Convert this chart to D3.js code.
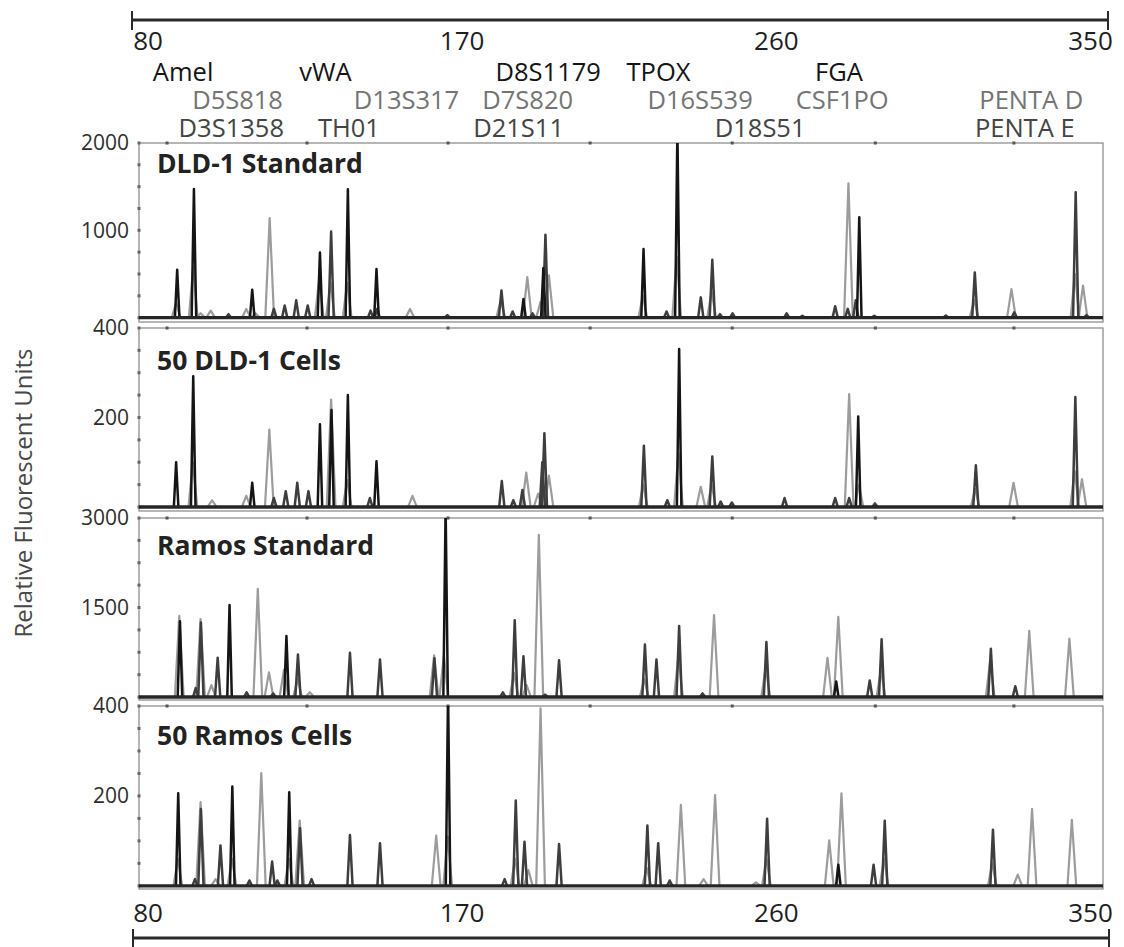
<!DOCTYPE html>
<html><head><meta charset="utf-8">
<script src="https://cdn.jsdelivr.net/npm/d3@7"></script>
<style>
body{margin:0;background:#fff}
svg{display:block}
text{font-family:"Open Sans","Liberation Sans",sans-serif}
</style>
</head><body>
<svg id="c" width="1124" height="947"></svg>
<script>
// ---------------- DATA ----------------
const sizeTicks = [80, 170, 260, 350];            // fragment size (bp) labels
const frameTicks = [85.6, 125.7, 166.1, 206.8, 247.5, 288.5, 328.2]; // small marks on panel top edge (bp)

// marker names with the bp position of their label centre
const markersRow1 = [["Amel", 90.2], ["vWA", 131.0], ["D8S1179", 194.8], ["TPOX", 226.4], ["FGA", 278.1]];
const markersRow2 = [["D5S818", 105.8], ["D13S317", 154.2], ["D7S820", 188.9], ["D16S539", 238.3], ["CSF1PO", 279.0], ["PENTA D", 333.2]];
const markersRow3 = [["D3S1358", 104.0], ["TH01", 137.7], ["D21S11", 186.3], ["D18S51", 255.5], ["PENTA E", 331.3]];

const panelTitles = ["DLD-1 Standard", "50 DLD-1 Cells", "Ramos Standard", "50 Ramos Cells"];
const panelYTicks = [[1000, 2000], [200, 400], [1500, 3000], [200, 400]];
const panelYMax = [2000, 400, 3000, 400];

// peaks: [size bp, height RFU, dye tone]  k = black dye, d = dark dye, g = light dye
const dld1Standard = [
  [88.5,549,"k"],[88.2,170,"g"],[93.3,1474,"k"],[93.1,580,"g"],[95.2,50,"g"],[98.1,80,"g"],[103.2,40,"d"],
  [108.3,100,"g"],[110.0,320,"k"],[110.9,50,"g"],[115.0,1140,"g"],[116.2,100,"d"],[119.3,140,"d"],
  [122.6,198,"d"],[125.9,140,"d"],[129.4,747,"k"],[129.2,450,"g"],[132.6,986,"d"],[132.4,400,"g"],
  [137.4,1470,"k"],[137.2,400,"g"],[143.9,80,"d"],[145.6,556,"k"],[145.8,100,"d"],[155.2,100,"g"],
  [165.9,30,"d"],[181.4,312,"d"],[181.2,200,"g"],[184.6,70,"d"],[187.7,213,"k"],[188.8,465,"g"],
  [190.3,50,"d"],[192.6,180,"g"],[193.4,567,"k"],[194.0,949,"d"],[195.0,484,"g"],
  [222.1,785,"k"],[221.9,250,"g"],[228.7,70,"d"],[231.8,2150,"k"],[231.6,700,"g"],[238.5,232,"d"],
  [241.8,663,"d"],[241.6,300,"g"],[244.0,40,"d"],[247.6,50,"d"],[263.1,50,"d"],[267.6,20,"d"],
  [277.0,130,"d"],[280.8,1539,"g"],[280.6,100,"d"],[282.9,200,"d"],[283.9,1151,"k"],[288.2,20,"d"],
  [308.7,25,"d"],[317.0,518,"d"],[316.8,200,"g"],[327.5,327,"g"],[328.3,60,"d"],
  [345.9,1436,"d"],[345.7,500,"g"],[348.0,366,"g"],[349.0,30,"d"]
];
const dld1Cells = [
  [88.2,100,"k"],[93.1,292,"k"],[93.0,100,"g"],[98.5,15,"g"],[108.3,25,"g"],[110.0,54,"k"],
  [114.9,173,"g"],[116.2,20,"d"],[119.6,35,"d"],[122.9,54,"d"],[126.1,35,"d"],[129.4,185,"k"],
  [132.6,240,"g"],[132.7,217,"k"],[137.4,250,"k"],[137.2,60,"g"],[143.7,20,"d"],[145.6,102,"k"],
  [155.9,25,"g"],[181.5,58,"d"],[184.8,15,"d"],[187.4,38,"d"],[188.5,77,"g"],[191.9,30,"g"],
  [193.1,100,"d"],[193.7,165,"d"],[195.0,70,"g"],
  [222.2,137,"d"],[222.0,50,"g"],[228.9,15,"d"],[232.3,353,"k"],[232.1,120,"g"],[238.5,45,"g"],
  [241.8,113,"d"],[241.6,50,"g"],[244.2,12,"d"],[247.4,10,"d"],[262.5,20,"d"],[277.0,20,"d"],
  [281.0,252,"g"],[281.0,20,"d"],[283.6,202,"k"],[283.8,50,"g"],[288.4,8,"d"],[317.3,93,"d"],
  [317.1,40,"g"],[328.1,54,"g"],[345.8,246,"d"],[345.6,80,"g"],[347.7,62,"g"]
];
const ramosStandard = [
  [89.3,1270,"k"],[89.1,1361,"g"],[93.8,150,"d"],[95.2,1305,"g"],[95.3,1250,"d"],[98.3,200,"g"],
  [100.1,656,"d"],[103.5,1542,"k"],[108.4,80,"d"],[111.6,1814,"g"],[114.8,412,"g"],[116.0,60,"d"],
  [119.1,460,"g"],[119.8,1022,"k"],[123.1,712,"d"],[123.0,300,"g"],[126.5,80,"g"],[138.0,740,"d"],
  [146.6,627,"d"],[162.1,700,"g"],[162.2,650,"d"],[164.9,700,"g"],[165.4,3200,"k"],[181.8,80,"d"],
  [185.2,1288,"d"],[185.0,400,"g"],[187.7,683,"d"],[188.6,200,"g"],[192.1,2717,"g"],[193.9,40,"d"],
  [197.9,615,"d"],
  [222.5,881,"d"],[222.3,300,"g"],[225.8,627,"d"],[232.3,1192,"d"],[232.1,700,"g"],[239.0,60,"d"],
  [242.3,1373,"g"],[257.3,920,"d"],[257.1,500,"g"],[274.8,656,"g"],[277.3,260,"k"],[277.9,1344,"g"],
  [286.9,276,"d"],[290.3,966,"d"],[290.1,450,"g"],[321.6,808,"d"],[321.4,600,"g"],[328.6,180,"d"],
  [332.6,1107,"g"],[344.1,978,"g"]
];
const ramosCells = [
  [88.8,206,"k"],[88.7,60,"g"],[93.6,15,"d"],[95.2,186,"g"],[95.3,171,"d"],[99.5,15,"g"],
  [100.9,90,"d"],[104.3,221,"k"],[104.2,60,"g"],[109.2,12,"d"],[112.6,251,"g"],[115.7,54,"d"],
  [117.2,12,"d"],[120.6,208,"k"],[120.5,60,"g"],[123.6,145,"g"],[123.7,128,"d"],[127.0,15,"d"],
  [138.0,113,"d"],[146.6,95,"d"],[162.7,112,"g"],[166.1,430,"k"],[166.0,110,"g"],[182.3,15,"d"],
  [185.5,190,"d"],[185.3,60,"g"],[188.0,98,"d"],[189.1,35,"g"],[192.6,395,"g"],[197.9,93,"d"],
  [223.2,134,"d"],[223.0,40,"g"],[226.3,95,"d"],[229.6,12,"d"],[232.8,180,"g"],[239.3,15,"g"],
  [242.6,202,"g"],[254.3,8,"g"],[257.5,149,"d"],[257.3,60,"g"],[275.3,101,"g"],[277.9,47,"k"],
  [278.8,206,"g"],[288.0,47,"d"],[291.2,145,"d"],[291.0,60,"g"],[322.2,125,"d"],[322.0,50,"g"],
  [329.3,25,"g"],[333.4,171,"g"],[344.8,147,"g"]
];
const panelPeaks = [dld1Standard, dld1Cells, ramosStandard, ramosCells];

// ---------------- LAYOUT / STYLE ----------------
const L = 139, R = 1103;
const panelBox = [[143, 322], [328, 511], [518, 700], [706, 889]];
const panelYMin = [-50, -9, -50, -7];
const titleBase = [173, 370, 555, 745];
const tone = {
  k: {c: "#151515", w: 0.65, sw: 2.5, o: 2},
  d: {c: "#3e3e3e", w: 0.75, sw: 2.5, o: 1},
  g: {c: "#9c9c9c", w: 1.25, sw: 2.2, o: 0}
};

const svg = d3.select("#c");
const x = d3.scaleLinear().domain([80, 350]).range([147.5, 1090]);

// top size axis
const topAx = svg.append("g").attr("transform", "translate(0,20)")
  .call(d3.axisBottom(x).tickValues(sizeTicks).tickSize(0).tickPadding(12).tickFormat(d3.format("d")));
topAx.select(".domain").remove();
topAx.selectAll("text").attr("font-size", 26).attr("fill", "#1e1e1e").style("font-family", "Open Sans");
svg.append("line").attr("x1", 132).attr("x2", 1108).attr("y1", 20).attr("y2", 20).attr("stroke", "#2a2a2a").attr("stroke-width", 3);
[132, 1108].forEach(px => svg.append("line").attr("x1", px).attr("x2", px).attr("y1", 11).attr("y2", 30).attr("stroke", "#2a2a2a").attr("stroke-width", 2));

// bottom size axis
const botAx = svg.append("g").attr("transform", "translate(0,938)")
  .call(d3.axisTop(x).tickValues(sizeTicks).tickSize(0).tickPadding(16).tickFormat(d3.format("d")));
botAx.select(".domain").remove();
botAx.selectAll("text").attr("font-size", 26).attr("fill", "#1e1e1e").style("font-family", "Open Sans");
svg.append("line").attr("x1", 133).attr("x2", 1109).attr("y1", 938).attr("y2", 938).attr("stroke", "#2a2a2a").attr("stroke-width", 3);
[133, 1109].forEach(px => svg.append("line").attr("x1", px).attr("x2", px).attr("y1", 929).attr("y2", 947).attr("stroke", "#2a2a2a").attr("stroke-width", 2));

// marker labels
function markerRow(rows, yBase, col) {
  svg.append("g").selectAll("text").data(rows).join("text")
    .attr("x", d => x(d[1])).attr("y", yBase).attr("text-anchor", "middle")
    .attr("font-size", 25.5).attr("fill", col).text(d => d[0]);
}
markerRow(markersRow1, 81, "#141414");
markerRow(markersRow2, 109, "#747474");
markerRow(markersRow3, 137, "#444");

// y axis title
svg.append("text").attr("transform", "translate(22,493) rotate(-90)")
  .attr("text-anchor", "middle").attr("dominant-baseline", "central")
  .attr("font-size", 24).attr("fill", "#474747").text("Relative Fluorescent Units");

const defs = svg.append("defs");

panelPeaks.forEach((peaks, i) => {
  const [top, bottom] = panelBox[i];
  const y = d3.scaleLinear().domain([panelYMin[i], panelYMax[i]]).range([bottom, top]);
  const g = svg.append("g");
  defs.append("clipPath").attr("id", "clip" + i).append("rect")
    .attr("x", L).attr("y", top).attr("width", R - L).attr("height", bottom - top);

  // frame
  g.append("rect").attr("x", L).attr("y", top).attr("width", R - L).attr("height", bottom - top)
    .attr("fill", "none").attr("stroke", "#8f8f8f").attr("stroke-width", 1.3);
  // top edge marks
  g.selectAll(".tm").data(frameTicks).join("rect").attr("class", "tm")
    .attr("x", d => x(d) - 1.5).attr("y", top - 1.5).attr("width", 3).attr("height", 3).attr("fill", "#555");
  // left edge marks
  const minor = d3.range(0, panelYMax[i] + 1, panelYMax[i] / 8);
  g.selectAll(".lm").data(minor).join("rect").attr("class", "lm")
    .attr("x", L - 1.5).attr("y", d => y(d) - 1.5).attr("width", 3).attr("height", 3).attr("fill", "#666");

  // y tick labels
  const ax = g.append("g").attr("transform", `translate(${L},0)`)
    .call(d3.axisLeft(y).tickValues(panelYTicks[i]).tickSize(0).tickPadding(10).tickFormat(d3.format("d")));
  ax.select(".domain").remove();
  ax.selectAll("text").attr("font-size", 21).attr("fill", "#2e2e2e").style("font-family", "Open Sans");

  // peaks
  const line = d3.line().x(d => x(d[0])).y(d => y(d[1]));
  const pg = g.append("g").attr("clip-path", `url(#clip${i})`);
  const sorted = peaks.slice().sort((a, b) => tone[a[2]].o - tone[b[2]].o);
  pg.selectAll("path.pk").data(sorted).join("path").attr("class", "pk")
    .attr("d", d => line([[d[0] - tone[d[2]].w, 0], [d[0], d[1]], [d[0] + tone[d[2]].w, 0]]))
    .attr("fill", "none").attr("stroke", d => tone[d[2]].c).attr("stroke-width", d => tone[d[2]].sw)
    .attr("stroke-linejoin", "round");
  // baseline
  pg.append("line").attr("x1", L).attr("x2", R).attr("y1", y(0)).attr("y2", y(0))
    .attr("stroke", "#262626").attr("stroke-width", 3.4);

  // title
  g.append("text").attr("x", 157).attr("y", titleBase[i]).attr("font-size", 26.5).attr("font-weight", "bold")
    .attr("fill", "#222").text(panelTitles[i]);
});
</script>
</body></html>
